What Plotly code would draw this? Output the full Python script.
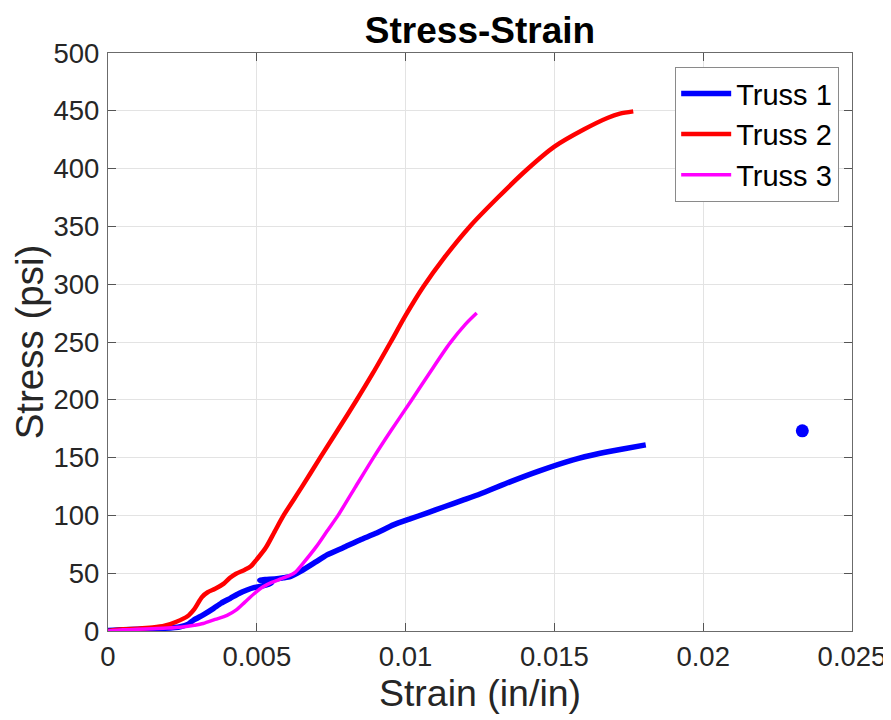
import plotly.graph_objects as go

# ---------------- data ----------------
truss1_strain = [0, 0.0005, 0.001, 0.0015, 0.00187, 0.00243, 0.0027, 0.00288, 0.0032, 0.00355,
                 0.0038, 0.00411, 0.0044, 0.00467, 0.0049, 0.0052, 0.0054, 0.0055, 0.0052, 0.0051,
                 0.0053, 0.0056, 0.0059, 0.00612, 0.0065, 0.007, 0.00736, 0.0079, 0.00847, 0.009,
                 0.00959, 0.01015, 0.01071, 0.0113, 0.0119, 0.0125, 0.01351, 0.0145, 0.01563,
                 0.0165, 0.0173, 0.01807]
truss1_stress = [0.5, 1, 1.5, 2, 2.3, 3.7, 6, 9.5, 14, 19.6,
                 24, 28.3, 32.5, 35.5, 37.5, 39, 40.5, 42, 43.5, 44,
                 44.5, 45, 46, 47, 52, 60, 65.8, 72, 78.8, 84.5,
                 91.8, 97, 102, 107.5, 113, 118.5, 129, 138.5, 148,
                 153.5, 157.5, 161]

truss2_strain = [0, 0.0005, 0.001, 0.0015, 0.0019, 0.0023, 0.00266, 0.0029, 0.00316, 0.00335,
                 0.0036, 0.00389, 0.0041, 0.0043, 0.0046, 0.0048, 0.005, 0.0053, 0.0056, 0.0059,
                 0.0065, 0.00713, 0.0077, 0.00836, 0.0089, 0.0095, 0.01, 0.0106, 0.0113, 0.01216,
                 0.0131, 0.01407, 0.015, 0.016, 0.0168, 0.0172, 0.01765]
truss2_stress = [0, 1.5, 2, 3, 4.5, 8, 12.5, 19, 29.5, 33.5,
                 36.5, 41, 46, 49.5, 53, 56, 62, 72, 86, 100,
                 124, 150, 173, 200, 223, 250, 273, 298, 323, 350,
                 375, 399, 419, 434, 444, 447.5, 449.5]

truss3_strain = [0, 0.0005, 0.001, 0.0015, 0.002, 0.0025, 0.0029, 0.0032, 0.0036, 0.004,
                 0.0043, 0.0046, 0.0049, 0.0052, 0.0055, 0.0058, 0.0061, 0.0063, 0.0066, 0.007,
                 0.00735, 0.00773, 0.0083, 0.00892, 0.0095, 0.01021, 0.0108, 0.01149, 0.012, 0.01239]
truss3_stress = [0, 1, 1.5, 2, 2.5, 3.5, 5, 6.5, 10, 13.5,
                 18, 25, 32, 38, 42, 45, 48, 51, 60, 73,
                 86, 100, 124, 150, 173, 200, 223, 249, 265, 275]

outlier_strain = [0.02333]
outlier_stress = [173.2]

x_tickvals = [0, 0.005, 0.01, 0.015, 0.02, 0.025]
x_ticktext = ["0", "0.005", "0.01", "0.015", "0.02", "0.025"]
y_tickvals = [0, 50, 100, 150, 200, 250, 300, 350, 400, 450, 500]

# ---------------- figure ----------------
FONT = "Liberation Sans, Arial, Helvetica, sans-serif"
TXT = "#262626"

fig = go.Figure()
fig.add_trace(go.Scatter(x=truss1_strain, y=truss1_stress, mode="lines", name="Truss 1",
                         line=dict(color="#0000ff", width=5.5, shape="spline", smoothing=0.5)))
fig.add_trace(go.Scatter(x=truss2_strain, y=truss2_stress, mode="lines", name="Truss 2",
                         line=dict(color="#ff0000", width=4.5, shape="spline", smoothing=0.8)))
fig.add_trace(go.Scatter(x=truss3_strain, y=truss3_stress, mode="lines", name="Truss 3",
                         line=dict(color="#ff00ff", width=3.5, shape="spline", smoothing=0.8)))
fig.add_trace(go.Scatter(x=outlier_strain, y=outlier_stress, mode="markers", showlegend=False,
                         marker=dict(color="#0000ff", size=13)))

axis_common = dict(
    ticks="inside", ticklen=8, tickwidth=1, tickcolor="#555555",
    showline=True, linecolor="#6b6b6b", linewidth=1.2, mirror="ticks",
    showgrid=True, gridcolor="#e3e3e3", gridwidth=1, zeroline=False,
    tickfont=dict(family=FONT, size=27.5, color=TXT),
)

# the page body has an 8px margin, so the figure is drawn 8px right/down
fig.update_layout(
    width=883, height=712,
    margin=dict(l=100, r=39, t=45, b=89, autoexpand=False),
    paper_bgcolor="white", plot_bgcolor="white",
    title=dict(text="Stress-Strain", x=0.5, xref="paper", xanchor="center",
               y=1 - 22 / 712, yref="container", yanchor="middle",
               font=dict(family=FONT, size=37, color="black", weight="bold")),
    xaxis=dict(range=[0, 0.025], tickvals=x_tickvals, ticktext=x_ticktext,
               title=dict(text="Strain (in/in)", standoff=4,
                          font=dict(family=FONT, size=37.5, color=TXT)),
               ticklabelstandoff=1, **axis_common),
    yaxis=dict(range=[0, 500], tickvals=y_tickvals,
               title=dict(text="Stress (psi)", standoff=6,
                          font=dict(family=FONT, size=38.5, color=TXT)),
               ticklabelstandoff=2, **axis_common),
    legend=dict(x=0.9825, xanchor="right", y=0.976, yanchor="top",
                bgcolor="white", bordercolor="#8a8a8a", borderwidth=1.2,
                font=dict(family=FONT, size=29, color="black"),
                tracegroupgap=0, itemwidth=50),
    showlegend=True,
)

fig.write_html("out.html")
